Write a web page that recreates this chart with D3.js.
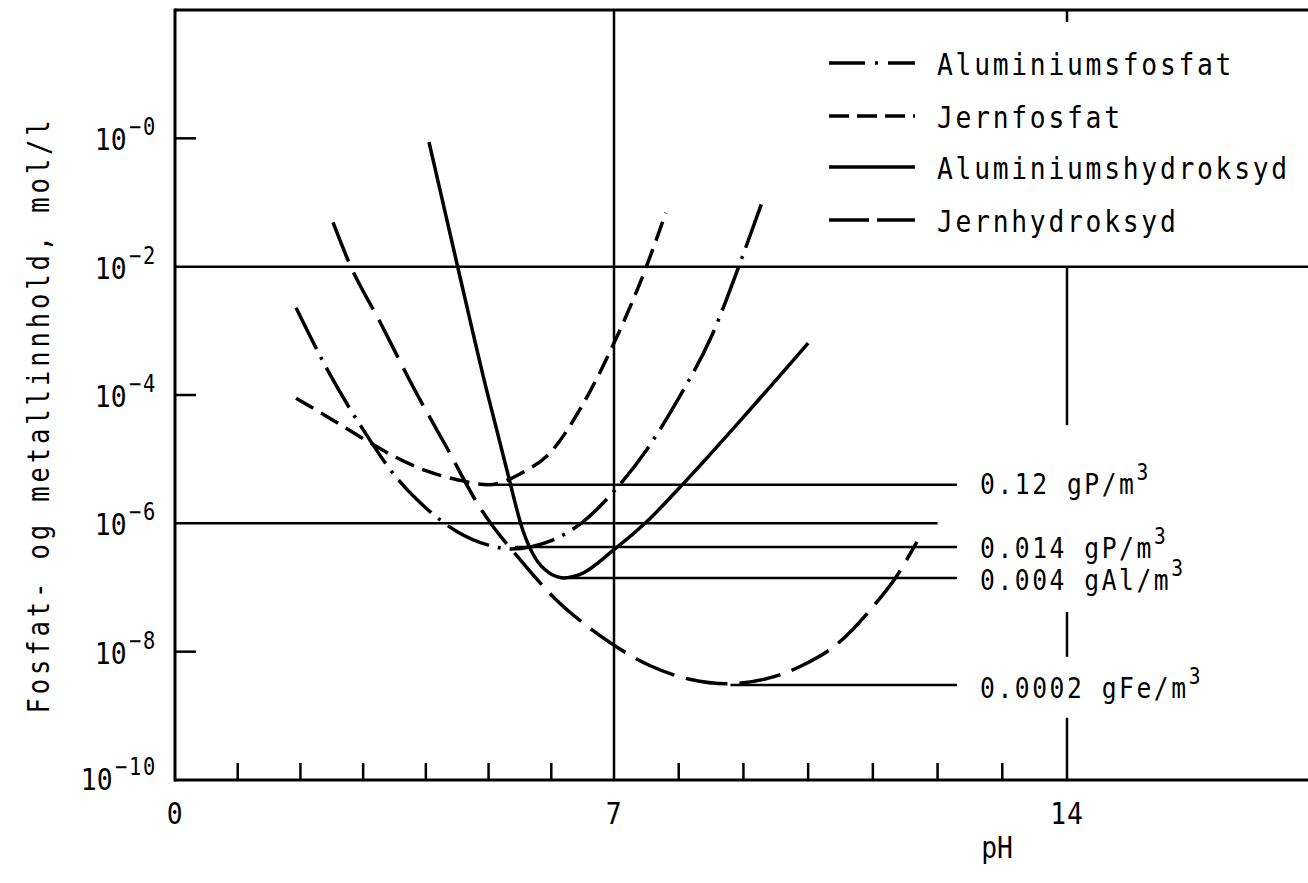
<!DOCTYPE html>
<html>
<head>
<meta charset="utf-8">
<script src="https://cdn.jsdelivr.net/npm/d3@7"></script>
<style>
body { margin: 0; background: #fff; }
svg text { font-family: "DejaVu Sans Mono", monospace; fill: #000; }
</style>
</head>
<body>
<div id="chart"></div>
<script>
// values: pH and log10 of concentration (mol/l)
const alPhosPH = [1.93, 2.5, 3.0, 3.5, 4.0, 4.5, 5.0, 5.35, 5.7, 6.0, 6.5, 7.0, 7.5, 8.0, 8.5, 9.0, 9.3]
const alPhosLog = [-2.64, -3.73, -4.54, -5.25, -5.76, -6.13, -6.34, -6.40, -6.36, -6.27, -5.98, -5.50, -4.86, -4.05, -3.10, -1.80, -0.96]

const fePhosPH = [1.93, 2.5, 3.0, 3.5, 4.0, 4.5, 5.0, 5.5, 6.0, 6.5, 7.0, 7.5, 7.8]
const fePhosLog = [-4.05, -4.38, -4.68, -4.96, -5.18, -5.32, -5.40, -5.23, -4.88, -4.15, -3.19, -2.0, -1.16]

const alHydPH = [4.05, 4.5, 4.95, 5.3, 5.55, 5.75, 5.95, 6.2, 6.45, 7.0, 7.5, 8.1, 9.1, 10.0]
const alHydLog = [-0.06, -1.97, -3.85, -5.20, -6.12, -6.55, -6.76, -6.85, -6.80, -6.41, -5.98, -5.35, -4.23, -3.19]

const feHydPH = [2.52, 2.76, 3.3, 3.8, 4.3, 4.86, 5.55, 6.14, 6.57, 6.97, 7.56, 8.17, 8.75, 9.36, 9.9, 10.45, 11.0, 11.37, 11.68]
const feHydLog = [-1.31, -1.90, -2.92, -3.88, -4.76, -5.75, -6.62, -7.25, -7.60, -7.88, -8.22, -8.43, -8.50, -8.42, -8.22, -7.88, -7.30, -6.82, -6.29]

const seriesNames = ["Aluminiumsfosfat", "Jernfosfat", "Aluminiumshydroksyd", "Jernhydroksyd"]

// reference levels drawn to the right
const refText = ["0.12 gP/m", "0.014 gP/m", "0.004 gAl/m", "0.0002 gFe/m"]
const refLog = [-5.40, -6.37, -6.85, -8.52]
const refStartPH = [5.0, 5.42, 6.15, 8.8]
const refEndPH = 12.3

const yExponents = [0, -2, -4, -6, -8, -10]
const yGridExponents = [-2, -6]
const xLabels = [0, 7, 14]
const xMinorTicks = [1, 2, 3, 4, 5, 6, 8, 9, 10, 11, 12, 13]
// pH 14 line is broken where the labels sit
const ph14Segments = [[-2, -4.47], [-7.38, -8.08], [-9.03, -10]]

const width = 1308, height = 883

const svg = d3.select("#chart").append("svg").attr("width", width).attr("height", height)

const x = d3.scaleLinear().domain([0, 7, 14, 18]).range([175, 614, 1067, 1326])
const y = d3.scaleLog().domain([1e-10, 1e2]).range([780, 10])
const yl = e => y(Math.pow(10, e))

const plotLeft = x(0), plotRight = width, plotTop = y(1e2), plotBottom = y(1e-10)

// the original lettering is a narrow typewriter face, so squeeze the mono font
const squeeze = 0.85
const place = (tx, ty, extra = "") => `translate(${tx},${ty}) ${extra} scale(${squeeze},1)`

// frame
svg.append("line").attr("x1", plotLeft).attr("x2", plotRight).attr("y1", plotTop).attr("y2", plotTop)
	.attr("stroke", "#000").attr("stroke-width", 3)
svg.append("line").attr("x1", plotLeft).attr("x2", plotRight).attr("y1", plotBottom).attr("y2", plotBottom)
	.attr("stroke", "#000").attr("stroke-width", 3)
svg.append("line").attr("x1", plotLeft).attr("x2", plotLeft).attr("y1", plotTop - 1.5).attr("y2", plotBottom + 1.5)
	.attr("stroke", "#000").attr("stroke-width", 3)

// horizontal grid lines at 10^-2 and 10^-6
svg.selectAll(".hgrid")
	.data(yGridExponents)
	.enter()
	.append("line")
	.attr("x1", plotLeft)
	.attr("x2", d => d === -2 ? plotRight : x(12))
	.attr("y1", d => yl(d))
	.attr("y2", d => yl(d))
	.attr("stroke", "#000")
	.attr("stroke-width", 2.5)

// pH 7 full line
svg.append("line").attr("x1", x(7)).attr("x2", x(7)).attr("y1", plotTop).attr("y2", plotBottom)
	.attr("stroke", "#000").attr("stroke-width", 2.5)

// pH 14 broken line and top tick
svg.selectAll(".ph14")
	.data(ph14Segments)
	.enter()
	.append("line")
	.attr("x1", x(14)).attr("x2", x(14))
	.attr("y1", d => yl(d[0])).attr("y2", d => yl(d[1]))
	.attr("stroke", "#000").attr("stroke-width", 2.5)
svg.append("line").attr("x1", x(14)).attr("x2", x(14)).attr("y1", plotTop).attr("y2", plotTop + 12)
	.attr("stroke", "#000").attr("stroke-width", 2.5)

// x minor ticks
svg.selectAll(".xtick")
	.data(xMinorTicks)
	.enter()
	.append("line")
	.attr("x1", d => x(d)).attr("x2", d => x(d))
	.attr("y1", plotBottom).attr("y2", plotBottom - 17)
	.attr("stroke", "#000").attr("stroke-width", 2.5)

// y minor ticks
svg.selectAll(".ytick")
	.data(yExponents.filter(e => e !== -10 && yGridExponents.indexOf(e) < 0))
	.enter()
	.append("line")
	.attr("x1", plotLeft).attr("x2", plotLeft + 21)
	.attr("y1", d => yl(d)).attr("y2", d => yl(d))
	.attr("stroke", "#000").attr("stroke-width", 2.5)

// y tick labels
const ylab = svg.selectAll(".ylab")
	.data(yExponents)
	.enter()
	.append("text")
	.attr("transform", d => place(157, yl(d) + (d === -10 ? 10 : 12)))
	.attr("text-anchor", "end")
	.style("font-size", "31px")
ylab.append("tspan").text("10")
ylab.append("tspan")
	.attr("dy", -15)
	.attr("dx", 3)
	.style("font-size", "24px")
	.style("letter-spacing", "2px")
	.text(d => "\u2212" + Math.abs(d))

// x tick labels
svg.selectAll(".xlab")
	.data(xLabels)
	.enter()
	.append("text")
	.attr("transform", d => place(x(d), 824))
	.attr("text-anchor", "middle")
	.style("font-size", "31px")
	.style("letter-spacing", "1px")
	.text(d => d)

svg.append("text").attr("transform", place(997, 858)).attr("text-anchor", "middle")
	.style("font-size", "31px").text("pH")

svg.append("text")
	.attr("transform", place(49, 415, "rotate(-90)"))
	.attr("text-anchor", "middle")
	.style("font-size", "30px")
	.style("letter-spacing", "4.6px")
	.text("Fosfat- og metallinnhold, mol/l")

// reference level lines + labels
svg.selectAll(".ref")
	.data(refLog)
	.enter()
	.append("line")
	.attr("x1", (d, i) => x(refStartPH[i]))
	.attr("x2", x(refEndPH))
	.attr("y1", d => yl(d)).attr("y2", d => yl(d))
	.attr("stroke", "#000").attr("stroke-width", 2.5)

const refBase = [494, 558, 590, 698]
const rl = svg.selectAll(".reflab")
	.data(refText)
	.enter()
	.append("text")
	.attr("transform", (d, i) => place(980, refBase[i]))
	.style("font-size", "29px")
	.style("letter-spacing", "3px")
rl.append("tspan").text(d => d)
rl.append("tspan").attr("dy", -14).style("font-size", "23px").text("3")

// curves
const curves = [
	{ ph: alPhosPH, lg: alPhosLog, dash: "46,9,3,9" },
	{ ph: fePhosPH, lg: fePhosLog, dash: "20,9" },
	{ ph: alHydPH, lg: alHydLog, dash: null },
	{ ph: feHydPH, lg: feHydLog, dash: "42,12" },
]

const line = d3.line()
	.x(d => x(d[0]))
	.y(d => yl(d[1]))
	.curve(d3.curveMonotoneX)

svg.selectAll(".curve")
	.data(curves)
	.enter()
	.append("path")
	.attr("d", c => line(c.ph.map((p, i) => [p, c.lg[i]])))
	.attr("fill", "none")
	.attr("stroke", "#000")
	.attr("stroke-width", 3.5)
	.attr("stroke-dasharray", c => c.dash)

// legend
const legendDash = ["36,10,3,10", "20,8", null, "40,8"]
const legendY = [63, 116, 167, 220]
const lg = svg.selectAll(".legend")
	.data(seriesNames)
	.enter()
	.append("g")
	.attr("transform", (d, i) => `translate(0, ${legendY[i]})`)
lg.append("line")
	.attr("x1", 829).attr("x2", 915)
	.attr("stroke", "#000").attr("stroke-width", 3.5)
	.attr("stroke-dasharray", (d, i) => legendDash[i])
lg.append("text")
	.attr("transform", place(937, 12))
	.style("font-size", "31px")
	.style("letter-spacing", "3.2px")
	.text(d => d)
</script>
</body>
</html>
